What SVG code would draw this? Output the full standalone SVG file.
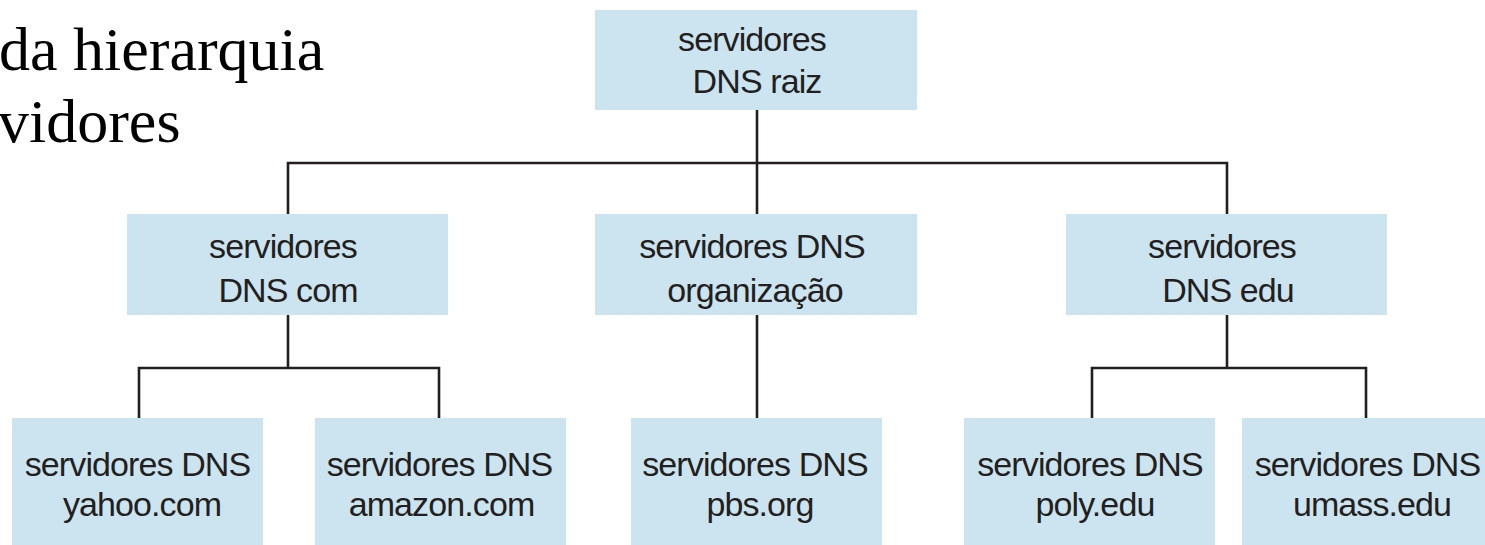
<svg xmlns="http://www.w3.org/2000/svg" width="1485" height="545" viewBox="0 0 1485 545">
<style>
.box{fill:#cce4f0;}
.t{font-family:"Liberation Sans",Arial,sans-serif;font-size:34px;letter-spacing:-0.9px;fill:#231f20;text-anchor:middle;}
.title{font-family:"Liberation Serif","Times New Roman",serif;font-size:62px;fill:#000;}
.c{fill:none;stroke:#231f20;stroke-width:2.6;}
</style>
<rect width="1485" height="545" fill="#fff"/>
<g id="title">
<text class="title" x="-1" y="70">da hierarquia</text>
<text class="title" x="-2" y="142">vidores</text>
</g>
<g id="connectors">
<path class="c" d="M757,110 V214"/>
<path class="c" d="M288,214 V163 H1227 V214"/>
<path class="c" d="M757,315 V418"/>
<path class="c" d="M288,315 V368"/>
<path class="c" d="M139,418 V368 H439 V418"/>
<path class="c" d="M1227,315 V368"/>
<path class="c" d="M1092,418 V368 H1366 V418"/>
</g>
<g id="root">
<rect class="box" x="595" y="10" width="322" height="100"/>
<text class="t" x="752" y="51">servidores</text>
<text class="t" x="757" y="93">DNS raiz</text>
</g>
<g id="com">
<rect class="box" x="127" y="214" width="321" height="101"/>
<text class="t" x="283" y="258">servidores</text>
<text class="t" x="288" y="302">DNS com</text>
</g>
<g id="org">
<rect class="box" x="595" y="214" width="322" height="101"/>
<text class="t" x="752" y="258">servidores DNS</text>
<text class="t" x="755" y="302">organização</text>
</g>
<g id="edu">
<rect class="box" x="1066" y="214" width="321" height="101"/>
<text class="t" x="1222" y="258">servidores</text>
<text class="t" x="1228" y="302">DNS edu</text>
</g>
<g id="yahoo">
<rect class="box" x="12" y="418" width="251" height="127"/>
<text class="t" x="137.500" y="476">servidores DNS</text>
<text class="t" x="142" y="516">yahoo.com</text>
</g>
<g id="amazon">
<rect class="box" x="315" y="418" width="251" height="127"/>
<text class="t" x="439.500" y="476">servidores DNS</text>
<text class="t" x="441.500" y="516">amazon.com</text>
</g>
<g id="pbs">
<rect class="box" x="631" y="418" width="251" height="127"/>
<text class="t" x="755" y="476">servidores DNS</text>
<text class="t" x="760" y="516">pbs.org</text>
</g>
<g id="poly">
<rect class="box" x="964" y="418" width="251" height="127"/>
<text class="t" x="1090" y="476">servidores DNS</text>
<text class="t" x="1095" y="516">poly.edu</text>
</g>
<g id="umass">
<rect class="box" x="1242" y="418" width="243" height="127"/>
<text class="t" x="1367.500" y="476">servidores DNS</text>
<text class="t" x="1372" y="516">umass.edu</text>
</g>
</svg>
